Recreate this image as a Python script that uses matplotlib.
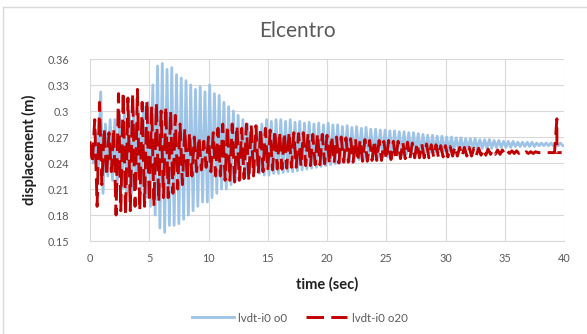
import numpy as np
import matplotlib.pyplot as plt

# %%
# values, one peak / one trough per cycle (0.4 s cycles)
blue_hi = [0.255, 0.275, 0.322, 0.285, 0.290, 0.290, 0.295, 0.300, 0.305, 0.300,
           0.300, 0.305, 0.310, 0.330, 0.352, 0.355, 0.348, 0.350, 0.342, 0.338,
           0.335, 0.330, 0.325, 0.328, 0.322, 0.330, 0.320, 0.318, 0.310, 0.305,
           0.300, 0.295, 0.290, 0.285, 0.280, 0.282, 0.285, 0.290, 0.288, 0.290,
           0.290, 0.288, 0.290, 0.287, 0.288, 0.286, 0.287, 0.285, 0.286, 0.284,
           0.286, 0.284, 0.284, 0.282, 0.283, 0.281, 0.282, 0.280, 0.281, 0.279,
           0.279, 0.278, 0.278, 0.277, 0.277, 0.276, 0.276, 0.275, 0.275, 0.274,
           0.273, 0.272, 0.272, 0.271, 0.271, 0.270, 0.270, 0.269, 0.269, 0.268,
           0.268, 0.268, 0.267, 0.267, 0.267, 0.266, 0.266, 0.265, 0.265, 0.265,
           0.264, 0.264, 0.264, 0.264, 0.263, 0.263, 0.263, 0.263, 0.263, 0.263]
blue_lo = [0.240, 0.235, 0.205, 0.225, 0.220, 0.215, 0.210, 0.205, 0.205, 0.210,
           0.205, 0.200, 0.190, 0.180, 0.165, 0.160, 0.168, 0.168, 0.170, 0.175,
           0.180, 0.185, 0.190, 0.195, 0.195, 0.200, 0.205, 0.210, 0.210, 0.215,
           0.220, 0.222, 0.225, 0.228, 0.230, 0.228, 0.226, 0.226, 0.228, 0.228,
           0.229, 0.230, 0.230, 0.231, 0.232, 0.233, 0.234, 0.235, 0.236, 0.237,
           0.238, 0.239, 0.240, 0.241, 0.242, 0.243, 0.244, 0.244, 0.245, 0.246,
           0.246, 0.247, 0.247, 0.248, 0.249, 0.249, 0.250, 0.250, 0.251, 0.251,
           0.252, 0.252, 0.253, 0.253, 0.254, 0.254, 0.255, 0.255, 0.255, 0.256,
           0.256, 0.256, 0.257, 0.257, 0.257, 0.258, 0.258, 0.258, 0.258, 0.259,
           0.259, 0.259, 0.259, 0.259, 0.260, 0.260, 0.260, 0.260, 0.260, 0.260]

red_hi = [0.265, 0.290, 0.310, 0.280, 0.275, 0.280, 0.320, 0.322, 0.315, 0.320,
          0.325, 0.310, 0.312, 0.305, 0.310, 0.300, 0.305, 0.300, 0.295, 0.285,
          0.280, 0.275, 0.270, 0.270, 0.265, 0.270, 0.275, 0.280, 0.285, 0.283,
          0.285, 0.283, 0.280, 0.285, 0.284, 0.283, 0.280, 0.280, 0.278, 0.278,
          0.276, 0.275, 0.276, 0.275, 0.274, 0.275, 0.274, 0.273, 0.274, 0.273,
          0.272, 0.271, 0.270, 0.270, 0.269, 0.268, 0.268, 0.267, 0.267, 0.266,
          0.266, 0.266, 0.265, 0.266, 0.265, 0.265, 0.264, 0.264, 0.263, 0.263,
          0.262, 0.262, 0.261, 0.261, 0.260, 0.260, 0.259, 0.259, 0.258, 0.258,
          0.258, 0.257, 0.257, 0.256, 0.256, 0.255, 0.255, 0.255, 0.254, 0.254,
          0.254, 0.253, 0.253, 0.253, 0.253, 0.252, 0.252, 0.252, 0.252, 0.252]
red_lo = [0.240, 0.190, 0.215, 0.225, 0.230, 0.180, 0.185, 0.180, 0.185, 0.190,
          0.185, 0.190, 0.195, 0.190, 0.195, 0.200, 0.200, 0.205, 0.210, 0.215,
          0.220, 0.225, 0.230, 0.232, 0.235, 0.230, 0.225, 0.225, 0.220, 0.220,
          0.218, 0.220, 0.222, 0.220, 0.225, 0.228, 0.230, 0.232, 0.232, 0.233,
          0.233, 0.234, 0.235, 0.235, 0.236, 0.237, 0.237, 0.238, 0.238, 0.239,
          0.239, 0.240, 0.240, 0.241, 0.241, 0.241, 0.242, 0.242, 0.242, 0.243,
          0.243, 0.243, 0.244, 0.244, 0.244, 0.245, 0.245, 0.245, 0.246, 0.246,
          0.246, 0.246, 0.247, 0.247, 0.247, 0.247, 0.248, 0.248, 0.248, 0.248,
          0.248, 0.249, 0.249, 0.249, 0.250, 0.250, 0.250, 0.250, 0.251, 0.251,
          0.251, 0.251, 0.251, 0.251, 0.252, 0.252, 0.252, 0.252, 0.252, 0.252]

# spike at the end of the red record
red_spike_t = 39.4
red_spike_y = 0.291

x_ticks = [0, 5, 10, 15, 20, 25, 30, 35, 40]
y_ticks = [0.15, 0.18, 0.21, 0.24, 0.27, 0.30, 0.33, 0.36]
y_tick_labels = ['0.15', '0.18', '0.21', '0.24', '0.27', '0.3', '0.33', '0.36']

# %%
# build the time series (half cycle = 0.2 s)
blue_y = np.column_stack([blue_hi, blue_lo]).ravel()
blue_t = 0.1 + 0.2 * np.arange(len(blue_y))

red_y = np.column_stack([red_hi, red_lo]).ravel()
red_t = 0.2 * np.arange(len(red_y))
i = np.searchsorted(red_t, red_spike_t)
red_t = np.insert(red_t, i, red_spike_t)
red_y = np.insert(red_y, i, red_spike_y)

# %%
plt.rcParams['font.family'] = ['Lato', 'DejaVu Sans']
grey = '#595959'

fig = plt.figure(figsize=(5.87, 3.34), dpi=100)
ax = fig.add_axes([90 / 587, 1 - 241 / 334, 474 / 587, 182 / 334])

ax.plot(blue_t, blue_y, color='#9DC3E6', lw=2.0, label='lvdt-i0 o0', zorder=2)
ax.plot(red_t, red_y, color='#C00000', lw=2.1, dashes=(6, 2.5), label='lvdt-i0 o20', zorder=3)

ax.set_xlim(0, 40)
ax.set_ylim(0.15, 0.36)
ax.set_xticks(x_ticks)
ax.set_yticks(y_ticks)
ax.set_yticklabels(y_tick_labels)
ax.tick_params(length=0, colors=grey, labelsize=7.8)
ax.tick_params(axis='y', pad=15)
ax.tick_params(axis='x', pad=9)
ax.grid(True, color='#D9D9D9', lw=0.8, zorder=0)
ax.set_axisbelow(True)
for s in ['top', 'right', 'left']:
    ax.spines[s].set_visible(False)
ax.spines['bottom'].set_color('#D9D9D9')

ax.set_xlabel('time (sec)', fontsize=10.5, fontweight='bold', color='#1f1f1f')
ax.set_ylabel('displacement (m)', fontsize=10.5, fontweight='bold', color='#1f1f1f')
ax.xaxis.set_label_coords(0.5, -0.2)
ax.yaxis.set_label_coords(-0.112, 0.5)

fig.text(297 / 587, 1 - 31 / 334, 'Elcentro', ha='center', va='center',
         fontsize=15, color=grey)

fig.legend(loc='center', bbox_to_anchor=(300 / 587, 1 - 318 / 334), ncol=2,
           frameon=False, fontsize=8.3, handlelength=3.6, columnspacing=1.6,
           handletextpad=0.4, labelcolor=grey)

# chart border (left and top edges visible)
fig.add_artist(plt.Line2D([3 / 587, 3 / 587], [0, 1 - 7 / 334], transform=fig.transFigure,
                          color='#D9D9D9', lw=1))
fig.add_artist(plt.Line2D([3 / 587, 1], [1 - 7 / 334, 1 - 7 / 334], transform=fig.transFigure,
                          color='#D9D9D9', lw=1))

fig.savefig('out.png', dpi=100)
